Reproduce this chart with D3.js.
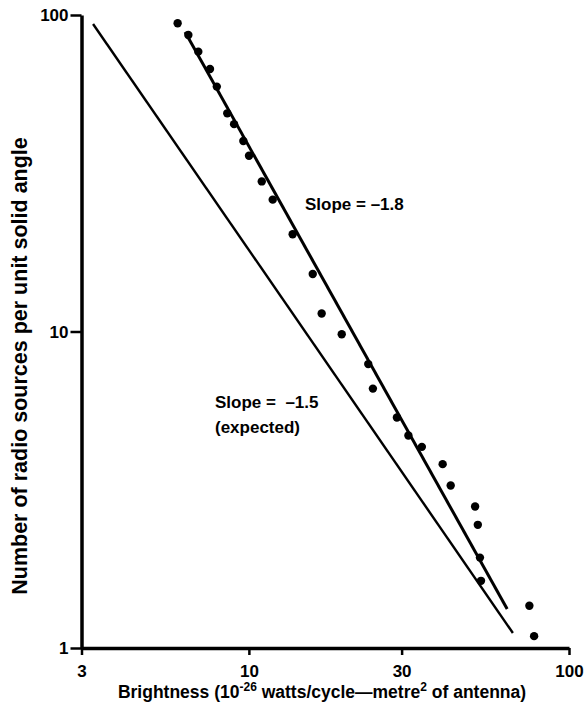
<!DOCTYPE html>
<html>
<head>
<meta charset="utf-8">
<script src="https://cdn.jsdelivr.net/npm/d3@7"></script>
<style>
  html, body { margin: 0; padding: 0; background: #fff; }
  svg { display: block; }
  text { font-family: "Liberation Sans", Arial, sans-serif; font-weight: bold; fill: #000; }
</style>
</head>
<body>
<svg id="chart" width="584" height="719"></svg>
<script>
// ---- Data ----
const brightness = [5.99, 6.47, 6.95, 7.56, 7.94, 8.56, 8.99, 9.61, 10.01, 10.97, 11.87, 13.7,
  15.83, 16.88, 19.5, 23.6, 24.4, 29.0, 31.5, 34.7, 40.3, 42.7, 50.9, 51.9, 52.7, 53.1, 75.2, 77.8];
const sourceCounts = [94.2, 86.5, 76.6, 67.5, 59.4, 48.9, 45.2, 40.0, 35.9, 29.8, 26.1, 20.3,
  15.2, 11.4, 9.8, 7.89, 6.6, 5.35, 4.69, 4.32, 3.81, 3.26, 2.8, 2.45, 1.93, 1.63, 1.36, 1.09];

// fitted line (slope -1.8) endpoints and expected line (slope -1.5) endpoints
const fitLineX = [6.32, 64.1];
const fitLineY = [88.4, 1.328];
const expectedLineX = [3.26, 66.8];
const expectedLineY = [93.7, 1.115];

const xTickValues = [3, 10, 30, 100];
const xTickLabels = ["3", "10", "30", "100"];
const yTickValues = [1, 10, 100];
const yTickLabels = ["1", "10", "100"];

// ---- Layout ----
const svg = d3.select("#chart");
const x = d3.scaleLog().domain([3, 100]).range([81.5, 569]);
const y = d3.scaleLog().domain([1, 100]).range([648, 15]);

// Axes
const xAxis = d3.axisBottom(x).tickValues(xTickValues)
  .tickFormat((d, i) => xTickLabels[i]).tickSizeInner(7).tickSizeOuter(0).tickPadding(10);
const yAxis = d3.axisLeft(y).tickValues(yTickValues)
  .tickFormat((d, i) => yTickLabels[i]).tickSizeInner(11).tickSizeOuter(0).tickPadding(2);

const gx = svg.append("g").attr("transform", "translate(0,648)").call(xAxis);
const gy = svg.append("g").attr("transform", "translate(81.5,0)").call(yAxis);

[gx, gy].forEach(g => {
  g.select(".domain").attr("stroke", "#000").attr("stroke-width", 3.5);
  g.selectAll(".tick line").attr("stroke", "#000").attr("stroke-width", 2.5);
  g.selectAll(".tick text").attr("font-family", "Liberation Sans, Arial, sans-serif")
    .attr("font-weight", "bold").attr("font-size", 17).attr("fill", "#000");
});
gy.selectAll(".tick text").attr("dy", "0.35em");

// Lines
const line = d3.line().x(d => x(d[0])).y(d => y(d[1]));
svg.append("path")
  .datum(expectedLineX.map((v, i) => [v, expectedLineY[i]]))
  .attr("d", line).attr("fill", "none").attr("stroke", "#000").attr("stroke-width", 2.4);
svg.append("path")
  .datum(fitLineX.map((v, i) => [v, fitLineY[i]]))
  .attr("d", line).attr("fill", "none").attr("stroke", "#000").attr("stroke-width", 3);

// Points
svg.append("g").selectAll("circle")
  .data(brightness.map((v, i) => [v, sourceCounts[i]]))
  .join("circle")
  .attr("cx", d => x(d[0])).attr("cy", d => y(d[1])).attr("r", 4.2).attr("fill", "#000");

// Annotations
svg.append("text").attr("x", 305).attr("y", 210).attr("font-size", 17).text("Slope = \u20131.8");
svg.append("text").attr("x", 215).attr("y", 408).attr("font-size", 17).attr("xml:space", "preserve").text("Slope =  \u20131.5");
svg.append("text").attr("x", 215).attr("y", 433).attr("font-size", 17).text("(expected)");

// Axis titles
const xt = svg.append("text").attr("x", 322).attr("y", 698).attr("text-anchor", "middle").attr("font-size", 17.5);
xt.append("tspan").text("Brightness (10");
xt.append("tspan").attr("dy", -7).attr("font-size", 12).text("-26");
xt.append("tspan").attr("dy", 7).text(" watts/cycle\u2014metre");
xt.append("tspan").attr("dy", -7).attr("font-size", 12).text("2");
xt.append("tspan").attr("dy", 7).text(" of antenna)");

svg.append("text")
  .attr("transform", "translate(27,366) rotate(-90)")
  .attr("text-anchor", "middle").attr("font-size", 21.5)
  .text("Number of radio sources per unit solid angle");
</script>
</body>
</html>
